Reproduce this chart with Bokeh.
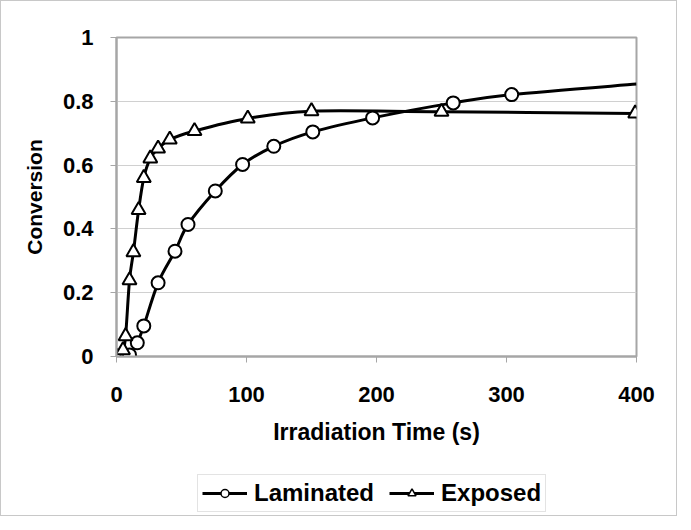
from bokeh.plotting import figure
from bokeh.layouts import column
from bokeh.models import Range1d, Legend, LegendItem, ColumnDataSource, FixedTicker
from bokeh.embed import file_html
from bokeh.resources import INLINE

# ---- data ----
lam_time = [0, 5, 10, 16, 21, 32, 45, 55, 76, 97, 121, 151, 197, 259, 304]
lam_conv = [0, 0.002, 0.005, 0.043, 0.096, 0.231, 0.330, 0.414, 0.519, 0.602, 0.659, 0.704, 0.748, 0.795, 0.821]
lam_curve_end = (400, 0.854)   # fitted curve continues to the axis end

exp_time = [0, 5, 7, 10, 13, 17, 21, 26, 32, 41, 60, 101, 150, 250, 399]
exp_conv = [0, 0.02, 0.064, 0.239, 0.327, 0.459, 0.560, 0.621, 0.652, 0.680, 0.707, 0.746, 0.769, 0.767, 0.762]

x_ticks = [0, 100, 200, 300, 400]
y_ticks = [0, 0.2, 0.4, 0.6, 0.8, 1.0]
series_names = ["Laminated", "Exposed"]

FONT = "Liberation Sans"
GREY = "#a6a6a6"


def smooth_segments(xs, ys):
    """Excel-style smoothed line: cubic Bezier segments through the data points."""
    n = len(xs)
    d = dict(x0=[], y0=[], x1=[], y1=[], cx0=[], cy0=[], cx1=[], cy1=[])
    for i in range(n - 1):
        xp, yp = (xs[i - 1], ys[i - 1]) if i > 0 else (xs[i], ys[i])
        xn2, yn2 = (xs[i + 2], ys[i + 2]) if i + 2 < n else (xs[i + 1], ys[i + 1])
        d["x0"].append(xs[i]); d["y0"].append(ys[i])
        d["x1"].append(xs[i + 1]); d["y1"].append(ys[i + 1])
        d["cx0"].append(xs[i] + (xs[i + 1] - xp) / 6.0)
        d["cy0"].append(ys[i] + (ys[i + 1] - yp) / 6.0)
        d["cx1"].append(xs[i + 1] - (xn2 - xs[i]) / 6.0)
        d["cy1"].append(ys[i + 1] - (yn2 - ys[i]) / 6.0)
    return ColumnDataSource(d)


p = figure(width=675, height=466, output_backend="svg", toolbar_location=None,
           x_range=Range1d(0, 400), y_range=Range1d(0, 1),
           min_border_left=115, min_border_right=40, min_border_top=36, min_border_bottom=111)

p.outline_line_color = GREY
p.outline_line_width = 2
p.xgrid.visible = False
p.ygrid.grid_line_color = "#d0d0d0"
p.ygrid.grid_line_width = 1

for ax in (p.xaxis[0], p.yaxis[0]):
    ax.axis_line_color = GREY
    ax.axis_line_width = 2
    ax.major_tick_line_color = GREY
    ax.major_tick_line_width = 1
    ax.major_tick_out = 6
    ax.major_tick_in = 0
    ax.minor_tick_line_color = None
    ax.major_label_text_font = FONT
    ax.major_label_text_font_style = "bold"
    ax.major_label_text_font_size = "22px"
    ax.major_label_text_color = "black"
    ax.axis_label_text_font = FONT
    ax.axis_label_text_font_style = "bold"
    ax.axis_label_text_color = "black"

p.xaxis.axis_label_text_font_size = "23px"
p.yaxis.axis_label_text_font_size = "21px"
p.xaxis.ticker = FixedTicker(ticks=x_ticks)
p.yaxis.ticker = FixedTicker(ticks=y_ticks)
p.xaxis.axis_label = "Irradiation Time (s)"
p.yaxis.axis_label = "Conversion"
p.xaxis.major_label_standoff = 24
p.xaxis.axis_label_standoff = 14
p.yaxis.major_label_standoff = 17
p.yaxis.axis_label_standoff = 14

p.bezier(x0="x0", y0="y0", x1="x1", y1="y1", cx0="cx0", cy0="cy0", cx1="cx1", cy1="cy1",
         source=smooth_segments(lam_time + [lam_curve_end[0]], lam_conv + [lam_curve_end[1]]),
         line_color="black", line_width=3)
p.bezier(x0="x0", y0="y0", x1="x1", y1="y1", cx0="cx0", cy0="cy0", cx1="cx1", cy1="cy1",
         source=smooth_segments(exp_time, exp_conv),
         line_color="black", line_width=3)
p.scatter(lam_time, lam_conv, marker="circle", size=13, fill_color="white",
          line_color="black", line_width=2)
p.scatter(exp_time, exp_conv, marker="triangle", size=14, fill_color="white",
          line_color="black", line_width=2)

# ---- legend strip below the chart (its frame is aligned with the chart's frame) ----
leg = figure(width=675, height=48, output_backend="svg", toolbar_location=None,
             x_range=Range1d(0, 400), y_range=Range1d(0, 1),
             min_border=0, min_border_left=0, min_border_right=0, min_border_top=0, min_border_bottom=0)
leg.axis.visible = False
leg.grid.visible = False
leg.outline_line_color = None

items = []
for name, xs, ys, marker, size in zip(series_names, [lam_time, exp_time], [lam_conv, exp_conv],
                                      ["circle", "triangle"], [11, 12]):
    r_line = leg.line(xs, ys, line_color="black", line_width=3, visible=False)
    r_mark = leg.scatter(xs, ys, marker=marker, size=size, fill_color="white",
                         line_color="black", line_width=1.5, visible=False)
    items.append(LegendItem(label=name, renderers=[r_line, r_mark]))

legend = Legend(items=items, orientation="horizontal", location=(81, 3),
                label_text_font=FONT, label_text_font_style="bold", label_text_font_size="24px",
                label_text_color="black", glyph_width=45, glyph_height=20,
                label_standoff=7, spacing=15, padding=4, margin=0,
                border_line_color="#c8c8c8", border_line_width=1,
                background_fill_color="white", background_fill_alpha=1,
                inactive_fill_alpha=0)
leg.add_layout(legend, "center")

layout = column(p, leg, spacing=0, styles={"border": "1px solid #c8c8c8"})

open("out.html", "w").write(file_html(layout, INLINE))
